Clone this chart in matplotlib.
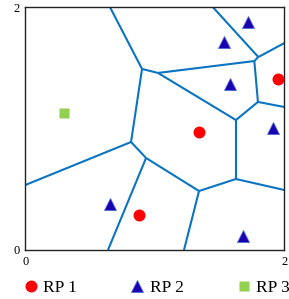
import numpy as np
import matplotlib
matplotlib.use("Agg")
import matplotlib.pyplot as plt
from matplotlib.collections import LineCollection

plt.rcParams['font.family'] = ['Liberation Serif', 'DejaVu Serif']

# reference points, by class
rp1_x = [1.342, 1.952, 0.879]
rp1_y = [0.970, 1.409, 0.288]
rp2_x = [1.716, 1.535, 1.579, 1.909, 0.653, 1.677]
rp2_y = [1.877, 1.710, 1.364, 1.003, 0.381, 0.117]
rp3_x = [0.300]
rp3_y = [1.127]

# partition vertices and the edges between them
verts = {
    "A": (0.653, 2.0), "B": (0.900, 1.492), "C": (1.023, 1.459),
    "D": (1.767, 1.557), "E": (1.798, 1.590), "F": (1.448, 2.0),
    "G": (2.0, 1.706), "H": (1.795, 1.220), "I": (2.0, 1.178),
    "J": (1.625, 1.071), "K": (1.625, 0.585), "L": (2.0, 0.494),
    "M": (1.340, 0.486), "N": (1.224, 0.0), "O": (0.931, 0.758),
    "P": (0.637, 0.0), "Q": (0.815, 0.890), "R": (0.0, 0.536),
}
edges = ["AB", "BC", "CD", "DE", "EF", "EG", "DH", "HI", "HJ", "CJ",
         "JK", "KL", "KM", "MN", "MO", "OP", "OQ", "QB", "QR"]

fig = plt.figure(figsize=(2.89, 2.99), dpi=100)
ax = fig.add_axes([0.0882, 0.1639, 0.8962, 0.8117])

segs = [[verts[e[0]], verts[e[1]]] for e in edges]
ax.add_collection(LineCollection(segs, colors="#0a74c2", linewidths=1.5, zorder=1))

ax.plot(rp1_x, rp1_y, linestyle='None', marker="o", ms=8.6, color="#ff0000",
        mec="none", label="RP 1", zorder=3)
ax.plot(rp2_x, rp2_y, linestyle='None', marker="^", ms=8.6, color="#1a00b0",
        mec="#4a6ad8", mew=0.6, label="RP 2", zorder=3)
ax.plot(rp3_x, rp3_y, linestyle='None', marker="s", ms=7.7, color="#92d050",
        mec="none", label="RP 3", zorder=3)

ax.set_xlim(0, 2)
ax.set_ylim(0, 2)
ax.set_xticks([0, 2])
ax.set_yticks([0, 2])
ax.tick_params(length=0, labelsize=9, pad=4)
for s in ax.spines.values():
    s.set_color("#222222")
    s.set_linewidth(1.0)

fig.legend(loc="lower left", bbox_to_anchor=(0.04, -0.03), ncol=3, frameon=False,
           fontsize=12.5, handlelength=0.8, handletextpad=0.3, columnspacing=3.1,
           borderaxespad=0.3)

fig.savefig("out.png", dpi=100)
